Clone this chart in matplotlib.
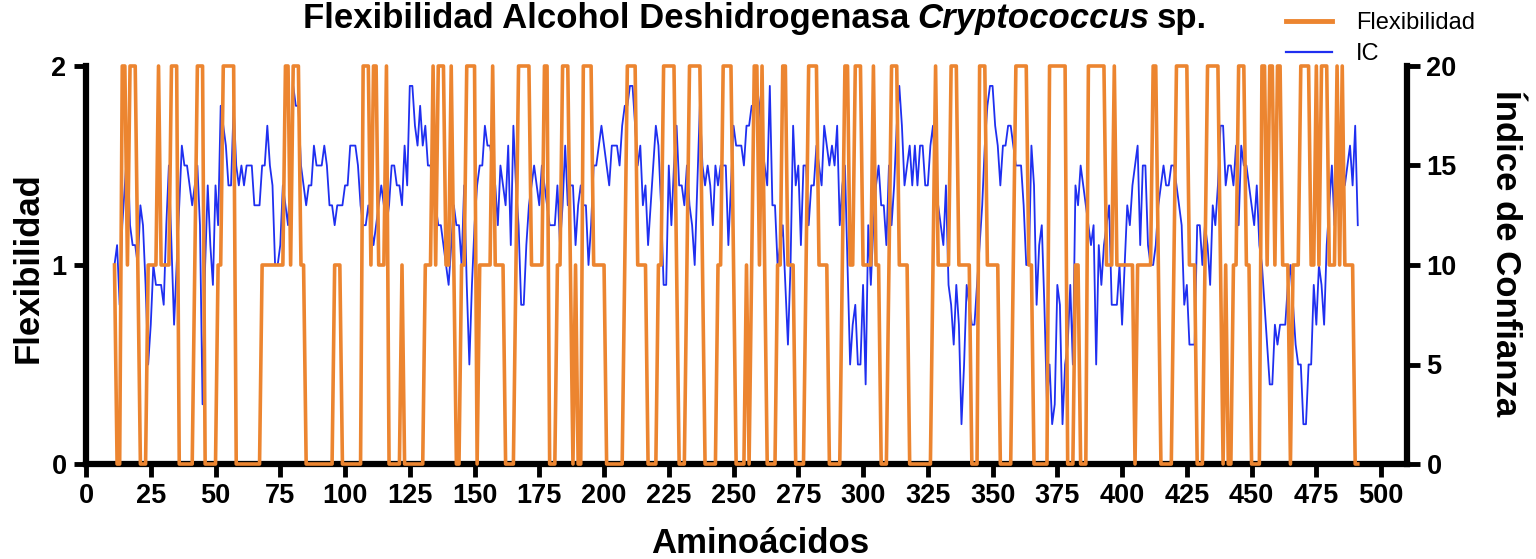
import numpy as np
import matplotlib
matplotlib.use("Agg")
import matplotlib.pyplot as plt
from matplotlib.lines import Line2D

# =========================
# Datos
# =========================
PRIMER_RESIDUO = 11

# Flexibilidad (0, 1, 2) por residuo, desde el residuo 11
flex = [
    1, 0, 0, 2, 2, 1, 2, 2, 2, 1,   # 11-20
    0, 0, 0, 1, 1, 1, 1, 2, 1, 1,   # 21-30
    1, 1, 2, 2, 2, 0, 0, 0, 0, 0,   # 31-40
    0, 1, 2, 2, 2, 0, 0, 0, 0, 0,   # 41-50
    1, 1, 2, 2, 2, 2, 2, 0, 0, 0,   # 51-60
    0, 0, 0, 0, 0, 0, 0, 1, 1, 1,   # 61-70
    1, 1, 1, 1, 1, 1, 2, 2, 1, 2,   # 71-80
    2, 2, 1, 1, 0, 0, 0, 0, 0, 0,   # 81-90
    0, 0, 0, 0, 0, 1, 1, 1, 0, 0,   # 91-100
    0, 0, 0, 0, 0, 0, 2, 2, 2, 1,   # 101-110
    2, 2, 1, 1, 1, 2, 0, 0, 0, 0,   # 111-120
    0, 1, 0, 0, 0, 0, 0, 0, 0, 0,   # 121-130
    1, 1, 1, 2, 1, 2, 2, 2, 1, 1,   # 131-140
    2, 1, 0, 0, 1, 1, 2, 2, 2, 2,   # 141-150
    0, 1, 1, 1, 1, 1, 2, 1, 1, 1,   # 151-160
    1, 0, 0, 0, 0, 1, 2, 2, 2, 2,   # 161-170
    2, 1, 1, 1, 1, 1, 2, 2, 0, 0,   # 171-180
    0, 1, 1, 2, 2, 2, 1, 0, 1, 0,   # 181-190
    0, 2, 2, 2, 2, 1, 1, 1, 1, 1,   # 191-200
    0, 0, 0, 0, 0, 0, 0, 1, 2, 2,   # 201-210
    2, 2, 1, 1, 1, 1, 0, 0, 0, 0,   # 211-220
    1, 1, 2, 2, 2, 2, 2, 1, 0, 0,   # 221-230
    0, 1, 2, 2, 2, 2, 2, 1, 0, 0,   # 231-240
    0, 0, 0, 1, 1, 2, 2, 2, 2, 1,   # 241-250
    0, 0, 0, 0, 1, 0, 1, 2, 2, 1,   # 251-260
    2, 1, 0, 0, 0, 0, 1, 1, 2, 2,   # 261-270
    1, 1, 1, 0, 0, 0, 0, 1, 2, 2,   # 271-280
    2, 2, 1, 1, 1, 1, 0, 0, 0, 0,   # 281-290
    0, 1, 2, 2, 1, 1, 2, 2, 2, 1,   # 291-300
    1, 1, 1, 2, 1, 1, 0, 0, 0, 1,   # 301-310
    2, 2, 2, 1, 1, 1, 1, 0, 0, 0,   # 311-320
    0, 0, 0, 0, 0, 0, 1, 2, 1, 1,   # 321-330
    1, 1, 1, 2, 2, 2, 1, 1, 1, 1,   # 331-340
    1, 0, 0, 0, 2, 2, 2, 1, 1, 1,   # 341-350
    1, 1, 0, 0, 0, 0, 0, 1, 2, 2,   # 351-360
    2, 2, 2, 1, 1, 0, 0, 0, 0, 0,   # 361-370
    0, 2, 2, 2, 2, 2, 2, 2, 0, 0,   # 371-380
    0, 1, 1, 0, 0, 0, 2, 2, 2, 2,   # 381-390
    2, 2, 2, 1, 1, 1, 2, 1, 1, 1,   # 391-400
    1, 1, 1, 1, 0, 1, 1, 1, 1, 1,   # 401-410
    1, 2, 2, 1, 0, 0, 0, 0, 0, 1,   # 411-420
    2, 2, 2, 2, 2, 1, 1, 1, 0, 0,   # 421-430
    0, 1, 2, 2, 2, 2, 2, 1, 0, 1,   # 431-440
    0, 0, 1, 1, 2, 2, 2, 1, 1, 0,   # 441-450
    0, 0, 0, 2, 2, 1, 2, 2, 1, 2,   # 451-460
    2, 1, 1, 1, 0, 1, 1, 1, 2, 2,   # 461-470
    2, 2, 1, 1, 2, 1, 2, 2, 2, 1,   # 471-480
    1, 1, 2, 1, 2, 1, 1, 1, 1, 0,   # 481-490
    0,                              # 491
]

# Indice de confianza (0-20) por residuo
ic = [
    10, 11, 8, 12, 14, 16, 12, 11, 11, 10,
    13, 12, 9, 5, 7, 10, 9, 9, 9, 8,
    12, 15, 11, 7, 10, 13, 16, 15, 15, 14,
    13, 14, 15, 12, 3, 10, 14, 11, 9, 14,
    12, 18, 17, 16, 14, 14, 18, 15, 14, 15,
    14, 15, 15, 15, 13, 13, 13, 15, 15, 17,
    15, 14, 10, 10, 11, 14, 13, 12, 15, 19,
    18, 18, 15, 14, 13, 14, 14, 16, 15, 15,
    15, 16, 15, 13, 13, 12, 13, 13, 13, 14,
    14, 16, 16, 16, 15, 13, 12, 12, 13, 12,
    11, 12, 13, 14, 13, 12, 13, 15, 15, 14,
    14, 13, 16, 14, 19, 19, 17, 16, 18, 16,
    17, 15, 15, 14, 13, 12, 12, 11, 10, 9,
    11, 13, 12, 12, 10, 14, 9, 5, 9, 12,
    14, 15, 15, 17, 16, 16, 15, 14, 12, 15,
    14, 13, 16, 11, 17, 14, 12, 8, 8, 11,
    13, 14, 15, 14, 13, 15, 14, 13, 12, 12,
    12, 14, 11, 13, 16, 13, 14, 14, 11, 13,
    14, 13, 13, 10, 12, 15, 15, 16, 17, 16,
    15, 14, 16, 16, 16, 15, 17, 18, 18, 19,
    19, 17, 15, 16, 13, 14, 11, 13, 15, 17,
    16, 13, 9, 9, 15, 12, 15, 17, 14, 14,
    13, 15, 13, 12, 10, 14, 18, 15, 14, 15,
    14, 12, 15, 14, 15, 15, 15, 11, 14, 17,
    16, 16, 16, 15, 17, 17, 18, 18, 19, 18,
    16, 15, 14, 19, 13, 13, 10, 11, 12, 9,
    6, 10, 17, 14, 15, 11, 15, 15, 12, 14,
    14, 16, 15, 14, 17, 16, 15, 16, 15, 17,
    12, 14, 15, 10, 5, 7, 8, 5, 5, 9,
    4, 12, 9, 12, 14, 15, 13, 13, 11, 15,
    12, 14, 17, 19, 17, 14, 15, 16, 14, 16,
    14, 16, 16, 14, 14, 16, 17, 14, 13, 12,
    11, 14, 9, 8, 6, 9, 7, 2, 5, 9,
    8, 7, 7, 9, 11, 13, 16, 18, 19, 19,
    17, 16, 14, 16, 16, 17, 17, 16, 15, 15,
    15, 13, 10, 10, 16, 14, 8, 11, 12, 8,
    3, 5, 2, 3, 9, 8, 2, 5, 6, 9,
    5, 14, 13, 15, 14, 13, 12, 11, 12, 5,
    11, 9, 11, 12, 13, 8, 8, 8, 10, 7,
    10, 13, 12, 14, 15, 16, 11, 15, 15, 11,
    10, 10, 11, 13, 14, 15, 14, 14, 15, 15,
    14, 13, 12, 8, 9, 6, 6, 6, 12, 12,
    10, 12, 11, 9, 13, 12, 14, 17, 17, 14,
    15, 15, 14, 16, 12, 16, 15, 15, 14, 13,
    12, 14, 11, 10, 8, 6, 4, 4, 7, 6,
    7, 7, 7, 9, 10, 8, 6, 5, 5, 2,
    2, 5, 5, 9, 7, 10, 9, 7, 11, 13,
    15, 12, 14, 15, 16, 14, 15, 16, 14, 17,
    12,
]

residuos = np.arange(PRIMER_RESIDUO, PRIMER_RESIDUO + len(flex))

x_ticks = list(range(0, 501, 25))
y_ticks_flex = [0, 1, 2]
y_ticks_ic = [0, 5, 10, 15, 20]

NARANJA = "#ec8530"
AZUL = "#1f2ff0"

# =========================
# Estilo
# =========================
plt.rcParams["font.family"] = ["Liberation Sans", "DejaVu Sans"]
plt.rcParams["font.weight"] = "bold"

W, H = 1536, 559
fig = plt.figure(figsize=(W / 100, H / 100), dpi=100)
ax = fig.add_axes([86 / W, 1 - 464 / H, (1407 - 86) / W, (464 - 66) / H])
ax2 = ax.twinx()

# naranja por encima del azul
ax.set_zorder(2)
ax.patch.set_visible(False)

ax.plot(residuos, flex, color=NARANJA, lw=2.6, clip_on=False, zorder=5)
ax2.plot(residuos, ic, color=AZUL, lw=1.3, clip_on=False)

ax.set_xlim(0, 510)
ax.set_ylim(0, 2)
ax2.set_ylim(0, 20)
ax.set_xticks(x_ticks)
ax.set_yticks(y_ticks_flex)
ax2.set_yticks(y_ticks_ic)

for a in (ax, ax2):
    a.spines["top"].set_visible(False)
    for s in a.spines.values():
        s.set_linewidth(4.5)
    a.tick_params(width=3.5, length=9, labelsize=19.5, pad=5)
ax.spines["right"].set_visible(False)
ax2.spines["left"].set_visible(False)
ax2.spines["bottom"].set_visible(False)

# =========================
# Textos
# =========================
fig.text(760 / W, 1 - 553 / H, "Aminoácidos", ha="center", va="baseline",
         fontsize=25, fontweight="bold")
fig.text(28 / W, 1 - 268 / H, "Flexibilidad", ha="center", va="center",
         rotation=90, fontsize=25, fontweight="bold")
fig.text(1505 / W, 1 - 253 / H, "Índice de Confianza", ha="center", va="center",
         rotation=270, fontsize=25, fontweight="bold")

# titulo con el genero en cursiva
partes = [("Flexibilidad Alcohol Deshidrogenasa", "normal"),
          ("Cryptococcus", "italic"),
          ("sp.", "normal")]
renderer = fig.canvas.get_renderer()
textos = [fig.text(0, 1 - 28 / H, s, style=st, fontsize=25, fontweight="bold",
                   va="baseline") for s, st in partes]
anchos = [t.get_window_extent(renderer).width for t in textos]
espacio = 8
x0 = 755 - (sum(anchos) + espacio * (len(anchos) - 1)) / 2
for t, w in zip(textos, anchos):
    t.set_x(x0 / W)
    x0 += w + espacio

handles = [Line2D([], [], color=NARANJA, lw=3.5), Line2D([], [], color=AZUL, lw=1.6)]
fig.legend(handles, ["Flexibilidad", "IC"], loc="upper left",
           bbox_to_anchor=(1286 / W, 1 - 12 / H), frameon=False,
           prop={"family": "Liberation Sans", "weight": "normal", "size": 17},
           handlelength=1.95, handletextpad=1.0, labelspacing=0.4,
           borderaxespad=0, borderpad=0)

fig.savefig("out.png", dpi=100)
